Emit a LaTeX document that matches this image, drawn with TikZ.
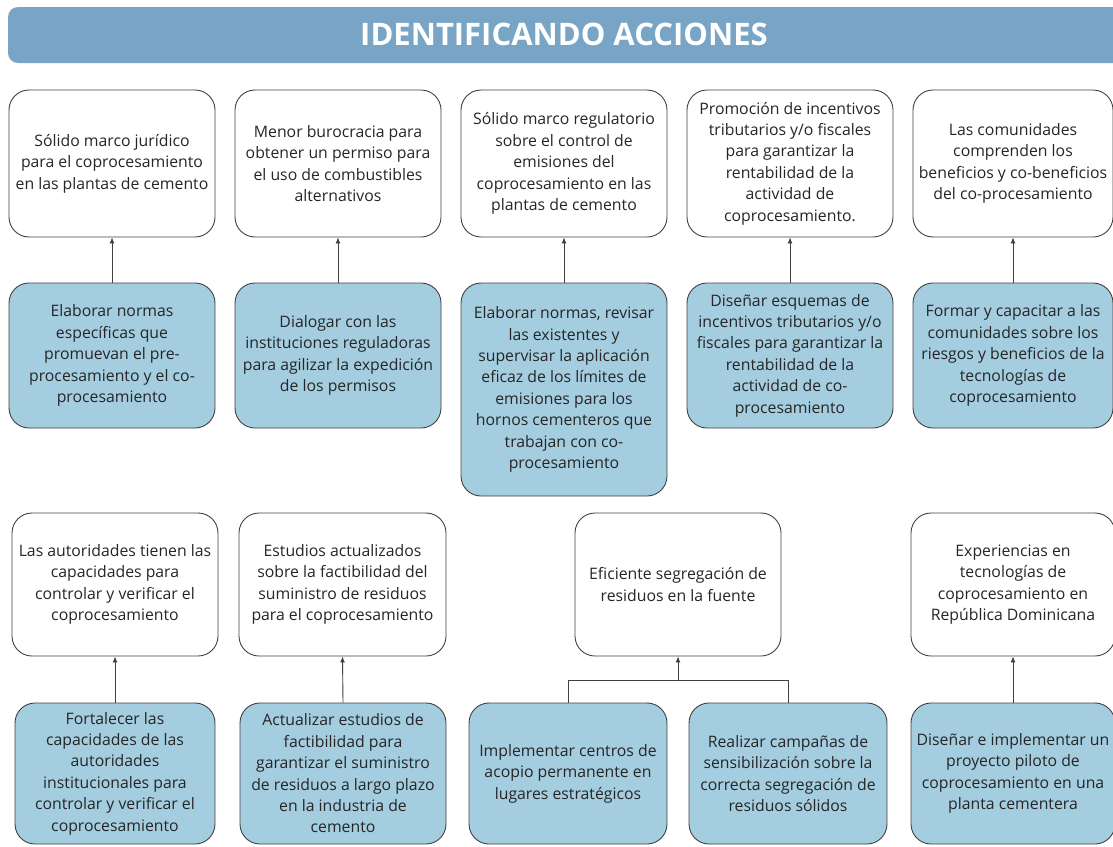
\documentclass[tikz,border=0pt]{standalone}
\usepackage{fontspec}
\setmainfont{Open Sans}
\usetikzlibrary{arrows.meta}
\definecolor{barblue}{RGB}{120,164,198}
\definecolor{boxblue}{RGB}{164,205,224}
\begin{document}
\begin{tikzpicture}[x=1pt,y=-1pt,
  box/.style={draw=black!75, line width=0.9pt, rounded corners=20pt, align=center,
    font=\fontsize{15.8}{21.4}\selectfont, text=black!85, inner sep=0pt},
  wbox/.style={box, fill=white},
  bbox/.style={box, fill=boxblue},
  conn/.style={draw=black!75, line width=0.9pt},
  arr/.style={conn, -{Latex[length=6pt,width=5pt]}}]
\useasboundingbox (0,0) rectangle (1113,846);
\clip (0,0) rectangle (1113,846);

\node[fill=barblue, rounded corners=10pt, minimum width=1117pt, minimum height=56pt, inner sep=0pt] (title) at (566.5,35) {};
\node[text=white, font=\fontsize{31}{34}\selectfont\bfseries, inner sep=0pt] (titletext) at (564,34) {IDENTIFICANDO ACCIONES};

% Row 1 results
\node[wbox, minimum width=206pt, minimum height=147pt] (a1) at (112,163.5) {Sólido marco jurídico\\para el coprocesamiento\\en las plantas de cemento};
\node[wbox, minimum width=206pt, minimum height=147pt] (a2) at (338,163.5) {Menor burocracia para\\obtener un permiso para\\el uso de combustibles\\alternativos};
\node[wbox, minimum width=206pt, minimum height=147pt] (a3) at (564,163.5) {Sólido marco regulatorio\\sobre el control de\\emisiones del\\coprocesamiento en las\\plantas de cemento};
\node[wbox, minimum width=206pt, minimum height=147pt] (a4) at (790,163.5) {Promoción de incentivos\\tributarios y/o fiscales\\para garantizar la\\rentabilidad de la\\actividad de\\coprocesamiento.};
\node[wbox, minimum width=200pt, minimum height=147pt] (a5) at (1013,163.5) {Las comunidades\\comprenden los\\beneficios y co-beneficios\\del co-procesamiento};

% Row 1 actions
\node[bbox, minimum width=206pt, minimum height=145pt] (b1) at (112,355.5) {Elaborar normas\\específicas que\\promuevan el pre-\\procesamiento y el co-\\procesamiento};
\node[bbox, minimum width=206pt, minimum height=145pt] (b2) at (338,355.5) {Dialogar con las\\instituciones reguladoras\\para agilizar la expedición\\de los permisos};
\node[bbox, minimum width=206pt, minimum height=213pt] (b3) at (564,389.5) {Elaborar normas, revisar\\las existentes y\\supervisar la aplicación\\eficaz de los límites de\\emisiones para los\\hornos cementeros que\\trabajan con co-\\procesamiento};
\node[bbox, minimum width=206pt, minimum height=145pt] (b4) at (790,355.5) {Diseñar esquemas de\\incentivos tributarios y/o\\fiscales para garantizar la\\rentabilidad de la\\actividad de co-\\procesamiento};
\node[bbox, minimum width=200pt, minimum height=145pt] (b5) at (1013,355.5) {Formar y capacitar a las\\comunidades sobre los\\riesgos y beneficios de la\\tecnologías de\\coprocesamiento};

% Row 2 results
\node[wbox, minimum width=206pt, minimum height=143pt] (c1) at (115,584.5) {Las autoridades tienen las\\capacidades para\\controlar y verificar el\\coprocesamiento};
\node[wbox, minimum width=207pt, minimum height=143pt] (c2) at (342.5,584.5) {Estudios actualizados\\sobre la factibilidad del\\suministro de residuos\\para el coprocesamiento};
\node[wbox, minimum width=206pt, minimum height=143pt] (c3) at (678,584.5) {Eficiente segregación de\\residuos en la fuente};
\node[wbox, minimum width=204pt, minimum height=143pt] (c4) at (1013,584.5) {Experiencias en\\tecnologías de\\coprocesamiento en\\República Dominicana};

% Row 2 actions
\node[bbox, minimum width=200pt, minimum height=141pt] (d1) at (115,773.5) {Fortalecer las\\capacidades de las\\autoridades\\institucionales para\\controlar y verificar el\\coprocesamiento};
\node[bbox, minimum width=206pt, minimum height=141pt] (d2) at (343,773.5) {Actualizar estudios de\\factibilidad para\\garantizar el suministro\\de residuos a largo plazo\\en la industria de\\cemento};
\node[bbox, minimum width=198pt, minimum height=141pt] (d3) at (568,773.5) {Implementar centros de\\acopio permanente en\\lugares estratégicos};
\node[bbox, minimum width=198pt, minimum height=141pt] (d4) at (788,773.5) {Realizar campañas de\\sensibilización sobre la\\correcta segregación de\\residuos sólidos};
\node[bbox, minimum width=204pt, minimum height=141pt] (d5) at (1013,773.5) {Diseñar e implementar un\\proyecto piloto de\\coprocesamiento en una\\planta cementera};

% Connectors
\draw[arr] (b1.north) -- (a1.south);
\draw[arr] (b2.north) -- (a2.south);
\draw[arr] (b3.north) -- (a3.south);
\draw[arr] (b4.north) -- (a4.south);
\draw[arr] (b5.north) -- (a5.south);
\draw[arr] (d1.north) -- (c1.south);
\draw[arr] (d2.north) -- (c2.south);
\draw[arr] (d5.north) -- (c4.south);
\coordinate (j) at (678,680);
\draw[conn] (d3.north) |- (j) -| (d4.north);
\draw[arr] (j) -- (c3.south);
\end{tikzpicture}
\end{document}
